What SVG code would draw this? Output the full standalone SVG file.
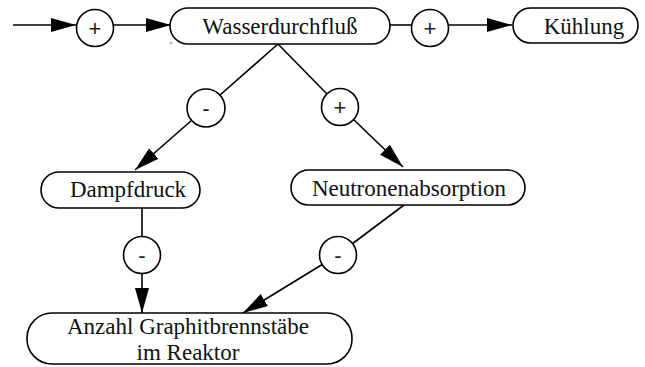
<svg xmlns="http://www.w3.org/2000/svg" width="645" height="367" viewBox="0 0 645 367">
<style>
.node{fill:#fff;stroke:#000;stroke-width:1.6}
.lbl{font-family:"Liberation Serif","Times New Roman",serif;font-size:23px;fill:#111;text-anchor:middle}
.sign{fill:#fff;stroke:#000;stroke-width:1.6}
.st{font-family:"Liberation Sans",Arial,sans-serif;font-size:22px;fill:#222;text-anchor:middle}
.edge{fill:none;stroke:#000;stroke-width:1.6}
.arr{marker-end:url(#ah)}
</style>
<defs>
<marker id="ah" markerUnits="userSpaceOnUse" markerWidth="26" markerHeight="16" refX="25" refY="7" orient="auto">
<path d="M0,0 L25,7 L0,14 Z" fill="#000"/>
</marker>
</defs>
<g id="connectors">
<line class="edge arr" x1="13" y1="25" x2="76" y2="25"/>
<line class="edge arr" x1="113" y1="25" x2="171" y2="25"/>
<line class="edge" x1="390" y1="25" x2="412" y2="25"/>
<line class="edge arr" x1="448" y1="25" x2="512" y2="25"/>
<line class="edge" x1="278" y1="44" x2="220" y2="95"/>
<line class="edge arr" x1="192" y1="120" x2="135" y2="170"/>
<line class="edge" x1="278" y1="44" x2="327" y2="94"/>
<line class="edge arr" x1="353" y1="119" x2="403" y2="167"/>
<line class="edge" x1="142" y1="208" x2="142" y2="236"/>
<line class="edge arr" x1="142" y1="272" x2="142" y2="313"/>
<line class="edge" x1="404" y1="205" x2="352" y2="244"/>
<line class="edge arr" x1="323" y1="264" x2="243" y2="313"/>
</g>
<g id="s1"><circle class="sign" cx="95" cy="28" r="18.5"/><text class="st" x="95" y="36">+</text></g>
<g id="s2"><circle class="sign" cx="430" cy="28" r="18.5"/><text class="st" x="430" y="36">+</text></g>
<g id="s3"><circle class="sign" cx="206" cy="108" r="19"/><text class="st" x="206" y="116">-</text></g>
<g id="s4"><circle class="sign" cx="340" cy="107" r="18.5"/><text class="st" x="340" y="115">+</text></g>
<g id="s5"><circle class="sign" cx="142" cy="255" r="18.5"/><text class="st" x="142" y="263">-</text></g>
<g id="s6"><circle class="sign" cx="338" cy="255" r="18.5"/><text class="st" x="338" y="263">-</text></g>
<g id="wasser"><rect class="node" x="170" y="8" width="220" height="36" rx="18"/><text class="lbl" x="280" y="34">Wasserdurchfluß</text></g>
<g id="kuehlung"><rect class="node" x="513" y="8" width="125" height="35" rx="17.5"/><text class="lbl" x="584" y="34">Kühlung</text></g>
<g id="dampf"><rect class="node" x="41" y="172" width="159" height="36" rx="18"/><text class="lbl" x="128" y="197">Dampfdruck</text></g>
<g id="neutron"><rect class="node" x="291" y="170" width="234" height="35" rx="17.5"/><text class="lbl" x="409" y="196">Neutronenabsorption</text></g>
<g id="anzahl"><rect class="node" x="27" y="313" width="325" height="51" rx="25"/><text class="lbl" x="188" y="334">Anzahl Graphitbrennstäbe</text><text class="lbl" x="188" y="360">im Reaktor</text></g>
<circle cx="171" cy="43" r="1" fill="none" stroke="#666" stroke-width="0.6"/>
</svg>
